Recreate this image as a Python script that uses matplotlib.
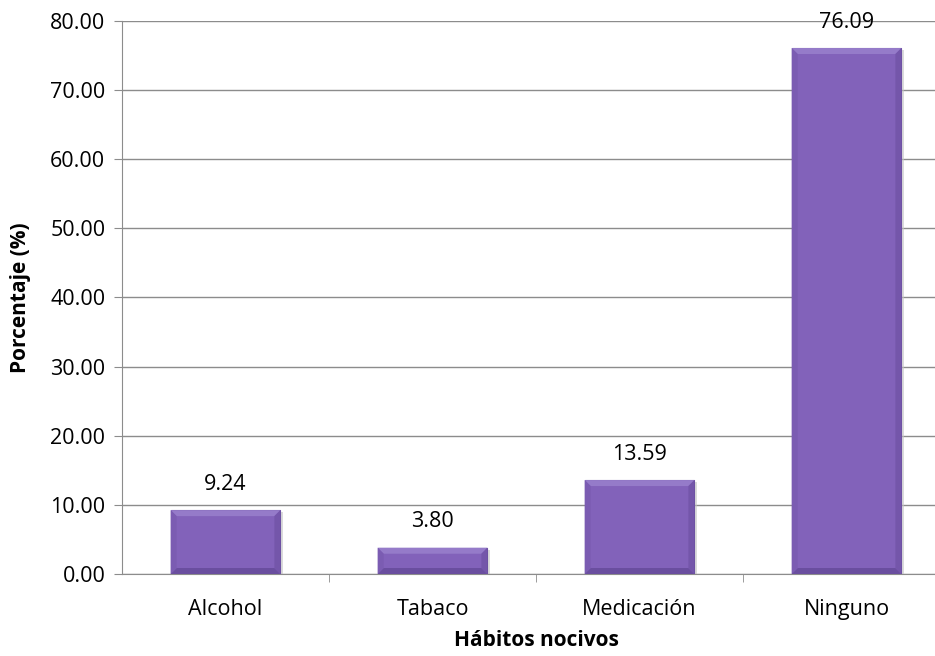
import numpy as np
import matplotlib.pyplot as plt
from matplotlib.patches import Polygon

# datos
habitos = ['Alcohol', 'Tabaco', 'Medicación', 'Ninguno']
porcentaje = [9.24, 3.80, 13.59, 76.09]

plt.rcParams['font.family'] = ['Open Sans', 'DejaVu Sans']

fig = plt.figure(figsize=(9.35, 6.56), dpi=100)
ax = fig.add_axes([0.1305, 0.125, 0.8856, 0.843])

x = np.arange(len(habitos))
ax.set_xlim(-0.5, len(habitos) - 0.5)
ax.set_ylim(0, 80)

bars = ax.bar(x, porcentaje, width=0.53, color='#8262ba', edgecolor='#6a4ea0',
              linewidth=0.8, zorder=3)

# sombra suave
for b in bars:
    ax.bar(b.get_x() + b.get_width() / 2 + 0.012, b.get_height(), width=b.get_width(),
           bottom=-0.3, color='#c4c4c4', alpha=0.6, zorder=2, linewidth=0)

# biseles (aprox. 6 px) en coordenadas de datos
bw = ax.get_window_extent().width
bh = ax.get_window_extent().height
dx = 6 * len(habitos) / bw
dy = 6 * 80 / bh
for b in bars:
    x0, x1 = b.get_x(), b.get_x() + b.get_width()
    y0, y1 = 0, b.get_height()
    d_y = min(dy, (y1 - y0) / 3)
    caras = [
        ([(x0, y1), (x1, y1), (x1 - dx, y1 - d_y), (x0 + dx, y1 - d_y)], '#957bc9'),
        ([(x0, y0), (x1, y0), (x1 - dx, y0 + d_y), (x0 + dx, y0 + d_y)], '#6a4e9f'),
        ([(x0, y0), (x0, y1), (x0 + dx, y1 - d_y), (x0 + dx, y0 + d_y)], '#7b5cb2'),
        ([(x1, y0), (x1, y1), (x1 - dx, y1 - d_y), (x1 - dx, y0 + d_y)], '#7456aa'),
    ]
    for pts, c in caras:
        ax.add_patch(Polygon(pts, closed=True, facecolor=c, edgecolor='none', zorder=4))

for xi, v in zip(x, porcentaje):
    ax.annotate(f'{v:.2f}', xy=(xi, v), xytext=(0, 11), textcoords='offset points',
                ha='center', va='bottom', fontsize=15.5)

ax.set_yticks(np.arange(0, 81, 10))
ax.set_yticklabels([f'{t:.2f}' for t in np.arange(0, 81, 10)], fontsize=15.5)
ax.set_xticks(x)
ax.set_xticklabels(habitos, fontsize=15.5)
ax.set_xticks(np.arange(0.5, len(habitos) - 0.5, 1), minor=True)
ax.tick_params(axis='x', which='major', length=0, pad=18)
ax.tick_params(axis='x', which='minor', length=6, color='#8c8c8c', direction='out')
ax.tick_params(axis='y', length=6, color='#8c8c8c', direction='out', pad=6)

ax.grid(True, axis='y', color='#8c8c8c', linewidth=1, zorder=0)
for s in ['top', 'right']:
    ax.spines[s].set_visible(False)
ax.spines['left'].set_color('#8c8c8c')
ax.spines['bottom'].set_color('#8c8c8c')

ax.set_xlabel('Hábitos nocivos', fontsize=15, fontweight='bold', labelpad=7)
ax.set_ylabel('Porcentaje (%)', fontsize=15, fontweight='bold', labelpad=14)

plt.savefig('out.png', dpi=100)
